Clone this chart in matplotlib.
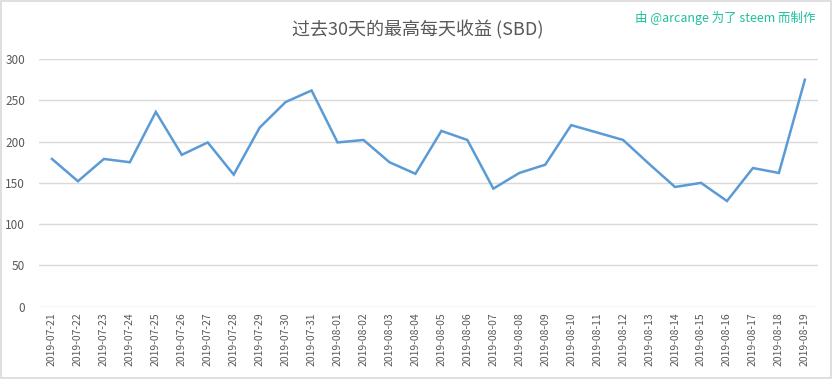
import numpy as np
import matplotlib.pyplot as plt
from matplotlib.patches import Rectangle

plt.rcParams['font.family'] = ['Noto Sans CJK SC', 'DejaVu Sans']

# Данные
dates = ['2019-07-21', '2019-07-22', '2019-07-23', '2019-07-24', '2019-07-25',
         '2019-07-26', '2019-07-27', '2019-07-28', '2019-07-29', '2019-07-30',
         '2019-07-31', '2019-08-01', '2019-08-02', '2019-08-03', '2019-08-04',
         '2019-08-05', '2019-08-06', '2019-08-07', '2019-08-08', '2019-08-09',
         '2019-08-10', '2019-08-11', '2019-08-12', '2019-08-13', '2019-08-14',
         '2019-08-15', '2019-08-16', '2019-08-17', '2019-08-18', '2019-08-19']
values = [179, 152, 179, 175, 236, 184, 199, 160, 217, 248,
          262, 199, 202, 175, 161, 213, 202, 143, 162, 172,
          220, 211, 202, 173, 145, 150, 128, 168, 162, 275]
y_ticks = [0, 50, 100, 150, 200, 250, 300]

title = '过去30天的最高每天收益 (SBD)'
credit = '由 @arcange 为了 steem 而制作'

fig = plt.figure(figsize=(8.33, 3.79), dpi=100)
ax = fig.add_axes([0.0468, 0.191, 0.935, 0.653])

x = np.arange(len(dates))
ax.plot(x, values, color='#5b9bd5', linewidth=1.8, solid_joinstyle='miter')

ax.set_xlim(-0.5, len(dates) - 0.5)
ax.set_ylim(0, 300)
ax.set_yticks(y_ticks)
ax.set_xticks(x)
ax.set_xticklabels(dates, rotation=90)
ax.tick_params(axis='both', length=0, labelsize=7.5, labelcolor='#595959')
ax.tick_params(axis='y', pad=10, labelsize=8.5)
ax.tick_params(axis='x', pad=4)
ax.grid(axis='y', color='#d9d9d9', linewidth=1)
ax.set_axisbelow(True)
for s in ax.spines.values():
    s.set_visible(False)

fig.text(0.501, 0.92, title, ha='center', va='center', fontsize=13, color='#595959')
fig.text(0.979, 0.953, credit, ha='right', va='center', fontsize=9, color='#1fbf9f')

# Рамка вокруг рисунка
fig.patches.append(Rectangle((0.001, 0.002), 0.997, 0.995, transform=fig.transFigure,
                             fill=False, edgecolor='#d9d9d9', linewidth=1.2))

fig.savefig('out.png', dpi=100)
